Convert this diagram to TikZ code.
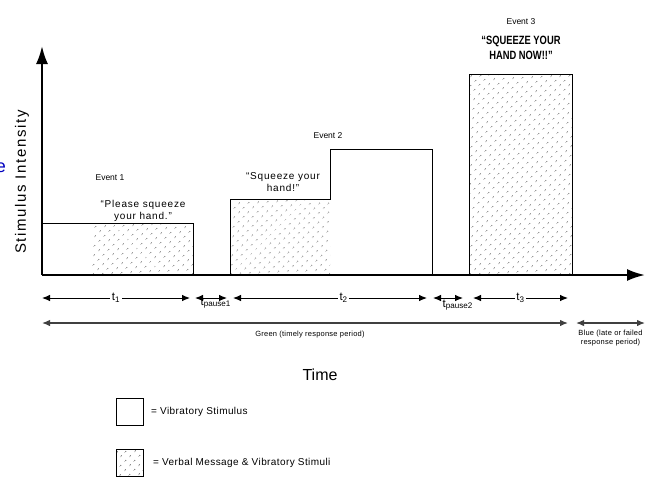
\documentclass[tikz,border=0pt]{standalone}
\usepackage{fontspec}
\setmainfont{Liberation Sans}
\newfontfamily\narrowfont[FakeStretch=0.78, Ligatures=TeX]{Liberation Sans}
\newcommand\spaced[1]{\addfontfeatures{LetterSpace=#1}}
\usetikzlibrary{arrows.meta, positioning, patterns.meta}

\begin{document}
\begin{tikzpicture}[
  x=1pt, y=-1pt,
  axis/.style={line width=2.2pt, -{Latex[length=18pt,width=12pt]}},
  stim/.style={draw, line width=1pt},
  verbal/.style={pattern={Dots[distance=6.5pt,radius=0.7pt,angle=45]}, pattern color=black!80},
  lbl/.style={font=\fontsize{8.5}{10}\selectfont, align=center},
  msg/.style={font=\fontsize{10}{12}\selectfont\spaced{8}, align=center},
  loud/.style={font=\narrowfont\bfseries\fontsize{12}{15}\selectfont, align=center},
  span/.style={line width=0.9pt, {Latex[length=8pt,width=6.5pt]}-{Latex[length=8pt,width=6.5pt]}},
  period/.style={line width=1.3pt, draw=black!75, {Latex[length=8pt,width=6.5pt]}-{Latex[length=8pt,width=6.5pt]}},
  tlabel/.style={fill=white, inner sep=1.5pt, font=\fontsize{11.5}{12}\selectfont},
  tiny/.style={font=\fontsize{7.5}{9}\selectfont\spaced{3}, align=center},
  legbox/.style={draw, line width=1pt, minimum size=27pt, inner sep=0pt},
  legtext/.style={font=\fontsize{10}{11}\selectfont\spaced{4}, inner sep=0pt}
]
\useasboundingbox (0,0) rectangle (671,493);

% AXES
\coordinate (o) at (42,275);
\coordinate (ytop) at (42,46);
\coordinate (xend) at (645,275);

% EVENTS (drawn before the axes so the axes sit on top)
\fill[verbal] (92,223) rectangle (193,275);
\draw[stim] (42,223) -- (193,223) -- (193,275);
\fill[verbal] (230,199) rectangle (330,275);
\draw[stim] (230,275) |- (330,199) |- (432,149) -- (432,275);
\filldraw[stim, verbal] (469,74) rectangle (572,275);

\draw[axis] (o) -- (ytop);
\draw[axis] (o) -- (xend);

% NODES
\node[rotate=90, font=\fontsize{15}{16}\selectfont\spaced{11}] (ylab) at (22,182) {Stimulus Intensity};
\node[text=blue!75!black, font=\fontsize{18}{18}\selectfont] (cut) at (1,168) {e};
\node[lbl] (ev1) at (110,178) {Event 1};
\node[msg] (msg1) at (143,211) {``Please squeeze\\your hand.''};
\node[lbl] (ev2) at (328,136) {Event 2};
\node[msg] (msg2) at (283,182) {``Squeeze your\\hand!''};
\node[lbl] (ev3) at (521,22) {Event 3};
\node[loud] (msg3) at (521,48) {``SQUEEZE YOUR\\HAND NOW!!''};

% TIMELINE
\coordinate (a0) at (42,298);
\coordinate (a1) at (190,298);
\coordinate (b0) at (195,298);
\coordinate (b1) at (227,298);
\coordinate (c0) at (233,298);
\coordinate (c1) at (427,298);
\coordinate (d0) at (433,298);
\coordinate (d1) at (463,298);
\coordinate (e0) at (473,298);
\coordinate (e1) at (568,298);

\draw[span] (a0) -- node[tlabel] (t1) {t\textsubscript{1}} (a1);
\draw[span] (b0) -- (b1);
\draw[span] (c0) -- node[tlabel, pos=0.57] (t2) {t\textsubscript{2}} (c1);
\draw[span] (d0) -- (d1);
\draw[span] (e0) -- node[tlabel] (t3) {t\textsubscript{3}} (e1);
\node[tlabel, fill=none, anchor=north west] (tp1) at (199,296) {t\textsubscript{pause1}};
\node[tlabel, fill=none, anchor=north west] (tp2) at (441,298) {t\textsubscript{pause2}};

\coordinate (g0) at (42,323);
\coordinate (g1) at (568,323);
\coordinate (h0) at (576,323);
\coordinate (h1) at (645,323);
\draw[period] (g0) -- node[tiny, below=4pt, xshift=5pt] (green) {Green (timely response period)} (g1);
\draw[period] (h0) -- node[tiny, below=3pt] (blue) {Blue (late or failed\\response period)} (h1);

\node[font=\fontsize{16}{18}\selectfont] (time) at (320,375) {Time};

% LEGEND
\node[legbox] (leg1) at (130,412) {};
\node[legtext, right=7pt of leg1] (leg1t) {= Vibratory Stimulus};
\node[legbox, verbal] (leg2) at (130,463) {};
\node[legtext, right=9pt of leg2] (leg2t) {= Verbal Message \& Vibratory Stimuli};

\end{tikzpicture}
\end{document}
